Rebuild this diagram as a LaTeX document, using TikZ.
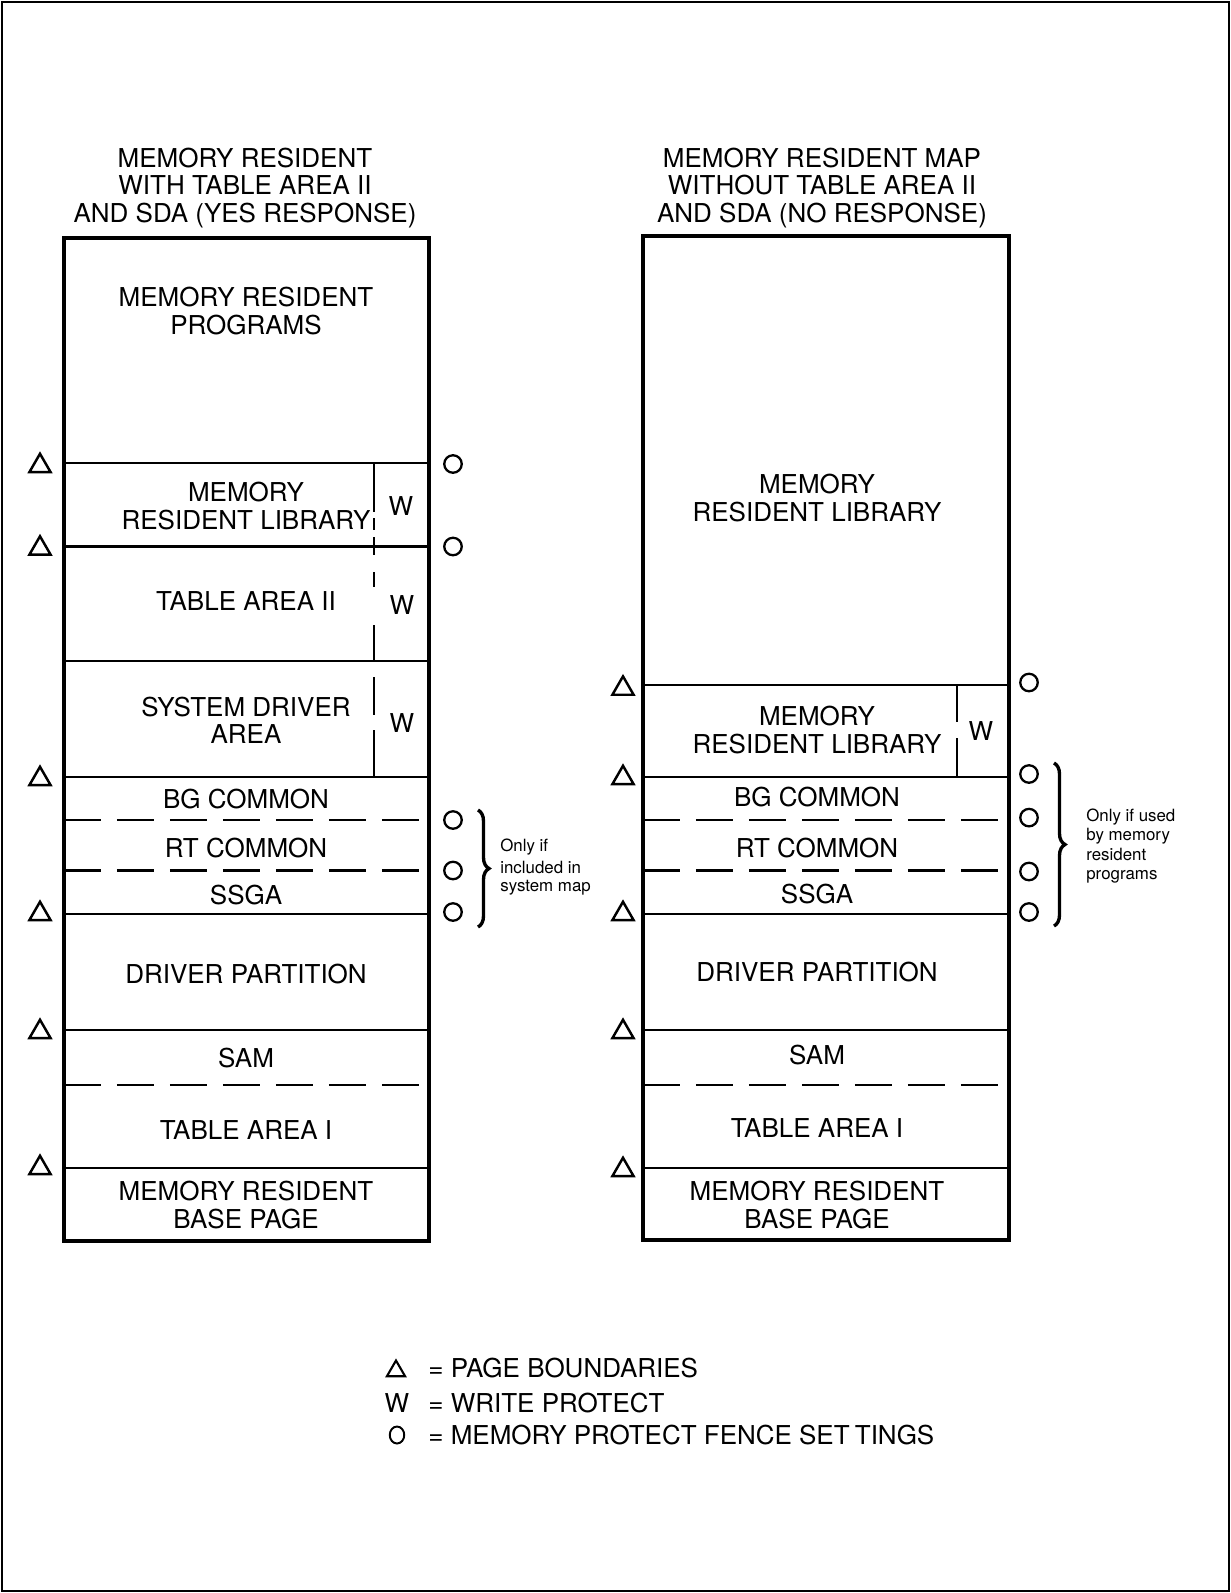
\documentclass[tikz,border=0pt]{standalone}
\usepackage{fontspec}
\setmainfont{TeX Gyre Heros}
\usetikzlibrary{shapes.geometric,decorations.pathreplacing}

\begin{document}
\begin{tikzpicture}[
        x=0.02cm, y=-0.02cm,
        mapbox/.style={line width=2.3pt},
        rule/.style={line width=1.2pt},
        dashrule/.style={line width=1.2pt, dash pattern=on 0.74cm off 0.32cm},
        lbl/.style={font=\fontsize{14.8}{15.6}\selectfont, align=center, inner sep=0pt},
        note/.style={font=\fontsize{9.6}{10}\selectfont, align=left, anchor=west, inner sep=0pt},
        pagemark/.style={draw, regular polygon, regular polygon sides=3, minimum size=0.49cm, inner sep=0pt, line width=1.4pt},
        fence/.style={draw, circle, minimum size=0.35cm, inner sep=0pt, line width=1.3pt},
        grp/.style={decorate, decoration={brace, amplitude=0.22cm}, line width=1.9pt}
    ]
        \useasboundingbox (0,0) rectangle (1231,1593);
        \draw[line width=1.2pt] (2,2) rectangle (1229,1591);

        % titles
        \node[lbl] (yesTitle) at (245,188) {MEMORY RESIDENT\\WITH TABLE AREA II\\AND SDA (YES RESPONSE)};
        \node[lbl] (noTitle) at (822,188) {MEMORY RESIDENT MAP\\WITHOUT TABLE AREA II\\AND SDA (NO RESPONSE)};

        % left map (yes response)
        \draw[mapbox] (64,238) rectangle (428.6,1241);
        \foreach \y in {463,546.5,661,777,914,1030,1168}
            \draw[rule] (64,\y) -- (428.6,\y);
        \foreach \y in {820,870.5,1085}
            \draw[dashrule] (64,\y) -- (428.6,\y);
        \foreach \a/\b in {463/512, 518/530, 537/555, 572/587, 625/661, 677/715, 730/777}
            \draw[rule] (374,\a) -- (374,\b);

        \node[lbl] (yesProg) at (246,311) {MEMORY RESIDENT\\PROGRAMS};
        \node[lbl] (yesLib) at (246,506) {MEMORY\\RESIDENT LIBRARY};
        \node[lbl] (yesTab2) at (246,601) {TABLE AREA II};
        \node[lbl] (yesSda) at (246,720) {SYSTEM DRIVER\\AREA};
        \node[lbl] (yesBg) at (246,799) {BG COMMON};
        \node[lbl] (yesRt) at (246,848) {RT COMMON};
        \node[lbl] (yesSsga) at (246,895) {SSGA};
        \node[lbl] (yesDrv) at (246,974) {DRIVER PARTITION};
        \node[lbl] (yesSam) at (246,1058) {SAM};
        \node[lbl] (yesTab1) at (246,1130) {TABLE AREA I};
        \node[lbl] (yesBase) at (246,1205) {MEMORY RESIDENT\\BASE PAGE};
        \node[lbl] (yesW1) at (401,506) {W};
        \node[lbl] (yesW2) at (402,605) {W};
        \node[lbl] (yesW3) at (402,723) {W};

        \foreach \y [count=\i] in {463,545.5,776,911,1029,1165}
            \node[pagemark] (yesPage\i) at (40,\y+3) {};
        \foreach \y [count=\i] in {464,546.5,820,870.5,912}
            \node[fence] (yesFence\i) at (453,\y) {};
        \draw[grp] (478,810) -- (478,927);
        \node[note] (yesNote) at (500,867) {Only if\\[2.5pt]included in\\system map};

        % right map (no response)
        \draw[mapbox] (643,236) rectangle (1008.6,1240);
        \foreach \y in {684.6,777,914,1030,1168}
            \draw[rule] (643,\y) -- (1008.6,\y);
        \foreach \y in {820,870.5,1085}
            \draw[dashrule] (643,\y) -- (1008.6,\y);
        \foreach \a/\b in {684.6/722, 738/777}
            \draw[rule] (957,\a) -- (957,\b);

        \node[lbl] (noLibBig) at (817,498) {MEMORY\\RESIDENT LIBRARY};
        \node[lbl] (noLib) at (817,730) {MEMORY\\RESIDENT LIBRARY};
        \node[lbl] (noBg) at (817,797) {BG COMMON};
        \node[lbl] (noRt) at (817,848) {RT COMMON};
        \node[lbl] (noSsga) at (817,894) {SSGA};
        \node[lbl] (noDrv) at (817,972) {DRIVER PARTITION};
        \node[lbl] (noSam) at (817,1055) {SAM};
        \node[lbl] (noTab1) at (817,1128) {TABLE AREA I};
        \node[lbl] (noBase) at (817,1205) {MEMORY RESIDENT\\BASE PAGE};
        \node[lbl] (noW) at (981,731) {W};

        \foreach \y [count=\i] in {685.6,775,911,1029,1167}
            \node[pagemark] (noPage\i) at (623,\y+3) {};
        \foreach \y [count=\i] in {682.5,774,817.6,871.5,912}
            \node[fence] (noFence\i) at (1029,\y) {};
        \draw[grp] (1054,763) -- (1054,926);
        \node[note, font=\fontsize{9.6}{11}\selectfont] (noNote) at (1086,846) {Only if used\\by memory\\resident\\programs};

        % key
        \node[pagemark, minimum size=0.42cm, line width=1.2pt] (keyPage) at (396,1371) {};
        \node[lbl] (keyW) at (397,1403) {W};
        \node[draw, ellipse, minimum width=0.29cm, minimum height=0.34cm, inner sep=0pt, line width=1.1pt] (keyFence) at (397,1435) {};
        \node[lbl, anchor=west] (keyPageTxt) at (428,1368) {= PAGE BOUNDARIES};
        \node[lbl, anchor=west] (keyWTxt) at (428,1403) {= WRITE PROTECT};
        \node[lbl, anchor=west] (keyFenceTxt) at (428,1435) {= MEMORY PROTECT FENCE SET\kern0.2em TINGS};
    \end{tikzpicture}
\end{document}
